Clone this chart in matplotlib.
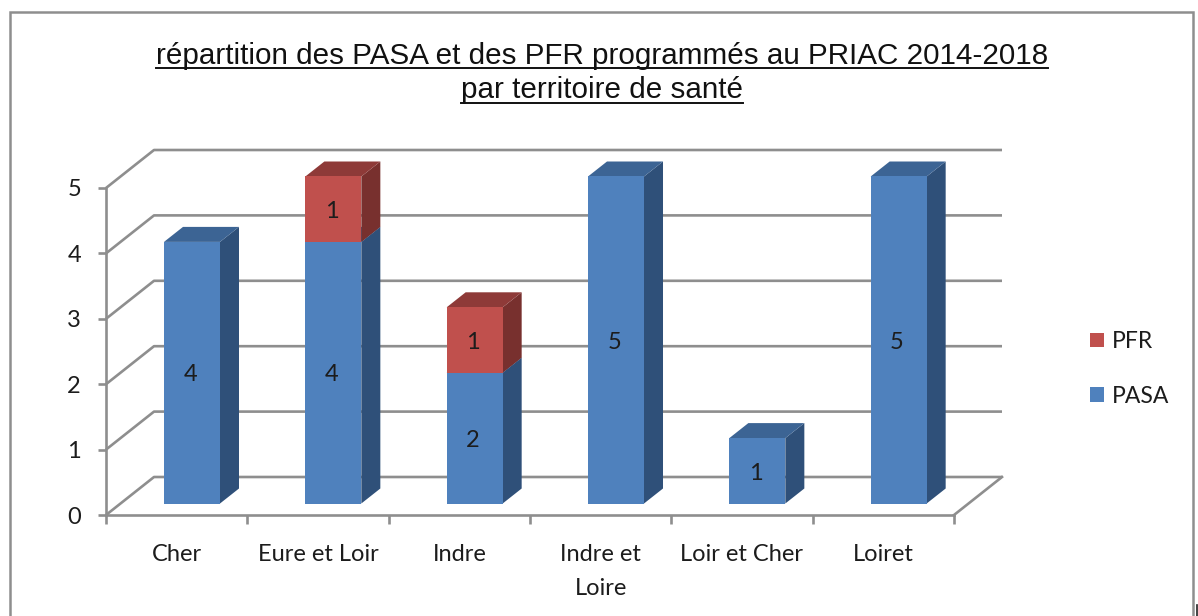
import matplotlib
matplotlib.use('Agg')
import matplotlib.pyplot as plt
from matplotlib.lines import Line2D
from matplotlib.patches import Patch, Polygon, Rectangle

categories = ['Cher', 'Eure et Loir', 'Indre', 'Indre et\nLoire', 'Loir et Cher', 'Loiret']
pasa = [4, 4, 2, 5, 1, 5]
pfr = [0, 1, 1, 0, 0, 0]
title_lines = ['répartition des PASA et des PFR programmés au PRIAC 2014-2018',
               'par territoire de santé']

W, H = 1198, 616
GREY = '#8e8e8e'
TXT = '#1c1c1c'
BLUE = ('#4f81bd', '#3c6494', '#2f5079')  # front, top, side
RED = ('#c0504d', '#8e3a38', '#78302e')
FS = 17

fig = plt.figure(figsize=(W / 100, H / 100), dpi=100, facecolor='white')
# axes box = the front plane of the fake 3d chart
ax = fig.add_axes([106 / W, 1 - 515 / H, 848 / W, 327 / H])
ax.set_xlim(0, 6)
ax.set_ylim(0, 5)
ax.patch.set_alpha(0)

# depth of the wall and of the bars, in data units
wall_dx, wall_dy = 48 / 141.33, 38 / 65.4
bar_dx, bar_dy = 19 / 141.33, 15 / 65.4
bar_x, bar_y = 58 / 141.33, 11.5 / 65.4
bar_w = 56 / 141.33

# back wall lines and diagonals
for v in range(6):
    ax.plot([0, wall_dx, 6 + wall_dx], [v, v + wall_dy, v + wall_dy],
            color=GREY, lw=1.9, clip_on=False, zorder=1, solid_capstyle='butt')
ax.plot([6, 6 + wall_dx], [0, wall_dy], color=GREY, lw=1.9, clip_on=False, zorder=1)


def box(x, low, high, cols, label):
    x0 = x + bar_x
    x1 = x0 + bar_w
    y0 = low + bar_y
    y1 = high + bar_y
    ax.add_patch(Polygon([(x1, y0), (x1 + bar_dx, y0 + bar_dy), (x1 + bar_dx, y1 + bar_dy), (x1, y1)],
                         fc=cols[2], ec='none', clip_on=False, zorder=3))
    ax.add_patch(Polygon([(x0, y1), (x1, y1), (x1 + bar_dx, y1 + bar_dy), (x0 + bar_dx, y1 + bar_dy)],
                         fc=cols[1], ec='none', clip_on=False, zorder=3))
    ax.bar(x0, high - low, bar_w, bottom=y0, align='edge', color=cols[0], clip_on=False, zorder=4)
    # labels sit a little left of and below the face centre in the original
    ax.text((x0 + x1) / 2 - 0.012, (y0 + y1) / 2 - 0.035, str(label), ha='center', va='center',
            fontsize=FS, color=TXT, family='Lato', zorder=5)


for i in range(len(categories)):
    box(i, 0, pasa[i], BLUE, pasa[i])
    if pfr[i] > 0:
        box(i, pasa[i], pasa[i] + pfr[i], RED, pfr[i])

# axes
for s in ['top', 'right']:
    ax.spines[s].set_visible(False)
for s in ['left', 'bottom']:
    ax.spines[s].set_color(GREY)
    ax.spines[s].set_linewidth(1.9)
ax.set_yticks(range(6))
ax.set_xticks(range(7))
ax.set_xticklabels([])
ax.set_xticks([i + 0.5 for i in range(6)], categories, minor=True)
ax.tick_params(axis='y', length=6, width=1.9, color=GREY, pad=12, labelsize=FS, labelcolor=TXT)
ax.tick_params(axis='x', which='major', length=6.5, width=1.9, color=GREY)
ax.tick_params(axis='x', which='minor', length=0, pad=20.7, labelsize=FS, labelcolor=TXT)
for t in ax.get_yticklabels() + ax.get_xticklabels(minor=True):
    t.set_family('Lato')
for t in ax.get_xticklabels(minor=True):
    t.set_linespacing(1.78)

# legend, top entry is the top of the stack
handles = [Patch(fc=RED[0], ec='none'), Patch(fc=BLUE[0], ec='none')]
fig.legend(handles, ['PFR', 'PASA'], loc='center left', bbox_to_anchor=(1090 / W, 1 - 369 / H),
           frameon=False, borderpad=0, borderaxespad=0, handlelength=0.6, handleheight=0.6,
           handletextpad=0.35, labelspacing=1.47, prop={'family': 'Lato', 'size': FS - 0.5},
           labelcolor=TXT)

# title, underlined by hand because matplotlib has no underline
fig.canvas.draw()
renderer = fig.canvas.get_renderer()
for line, y in zip(title_lines, [55.5, 90.5]):
    t = fig.text(602 / W, 1 - y / H, line, ha='center', va='center', family='Liberation Sans',
                 fontsize=21.3, color='#111111')
    bb = t.get_window_extent(renderer)
    uy = 1 - (y + 12.5) / H
    fig.add_artist(Line2D([bb.x0 / W, bb.x1 / W], [uy, uy], color='#111111', lw=1.4))

# chart frame, runs off the bottom of the picture
fig.add_artist(Rectangle((10 / W, -0.05), 1183 / W, 1.05 - 12 / H, transform=fig.transFigure,
                         fc='none', ec=GREY, lw=1.8))
fig.add_artist(Line2D([1197 / W, 1197 / W], [0, 11 / H], color='#222222', lw=1.2))

plt.savefig('out.png', dpi=100)
